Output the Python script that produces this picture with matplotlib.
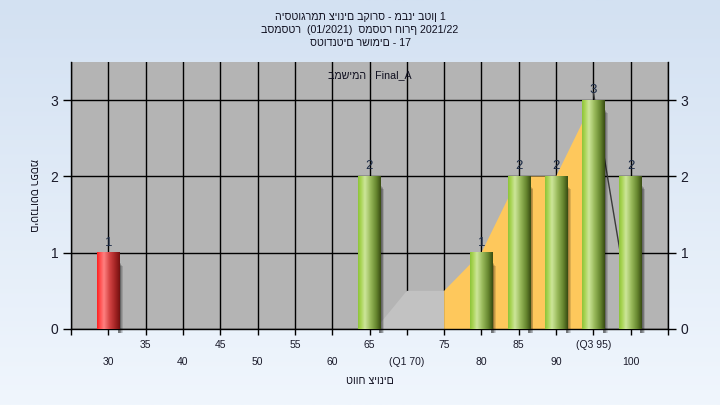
import numpy as np
import matplotlib
matplotlib.use('Agg')
import matplotlib.pyplot as plt
from matplotlib.colors import LinearSegmentedColormap
from matplotlib.patches import Rectangle

plt.rcParams['font.family'] = ['Liberation Sans', 'DejaVu Sans']

# ---- text ----
title_lines = ["היסטוגרמת ציונים בקורס - מבני בטון 1",
               "בסמסטר  (01/2021)  סמסטר חורף 2021/22",
               "סטודנטים רשומים - 17"]
task_label = "במשימה : Final_A"
x_label = "טווח ציונים"
y_label = "מספר סטודנטים"

# ---- data ----
grades = [30, 65, 80, 85, 90, 95, 100]
counts = [1, 2, 1, 2, 2, 3, 2]
failing = [True, False, False, False, False, False, False]

tick_values = [30, 35, 40, 45, 50, 55, 60, 65, 70, 75, 80, 85, 90, 95, 100]
tick_labels = ["30", "35", "40", "45", "50", "55", "60", "65", "(Q1 70)",
               "75", "80", "85", "90", "(Q3 95)", "100"]
y_ticks = [0, 1, 2, 3]

# quartile shading
low_band_x = [65.8, 70, 75, 75]
low_band_y = [0, 0.5, 0.5, 0]
high_band_x = [75, 75, 80, 85, 90, 95, 95]
high_band_y = [0, 0.5, 1, 2, 2, 3, 0]
whisker_x = [95, 98.6]
whisker_y = [3.1, 1.0]

W, H = 720, 405
fig = plt.figure(figsize=(W / 100, H / 100), dpi=100)

# background gradient
bg = fig.add_axes([0, 0, 1, 1], zorder=-10)
grad = np.linspace(0, 1, 256)[:, None]
bg_cmap = LinearSegmentedColormap.from_list('bg', ['#d3e1f2', '#f0f6fd'])
bg.imshow(grad, aspect='auto', cmap=bg_cmap, extent=[0, 1, 0, 1])
bg.axis('off')

ax = fig.add_axes([71 / W, 1 - 329 / H, (668 - 71) / W, (329 - 62) / H])
ax.set_facecolor('#b4b4b4')

# grid
ax.set_axisbelow(True)
ax.grid(which='both', axis='x', color='black', lw=1, zorder=0)
ax.grid(which='major', axis='y', color='black', lw=1, zorder=0)

# quartile bands
ax.fill(low_band_x, low_band_y, color='#c2c2c2', lw=0, zorder=1)
ax.fill(high_band_x, high_band_y, color='#fec85c', lw=0, zorder=1)
ax.plot(whisker_x, whisker_y, color='#3a3a3a', lw=1, zorder=1.5)

green_cmap = LinearSegmentedColormap.from_list('g', [
    (0, '#8cc43a'), (0.12, '#a8d352'), (0.3, '#cde69a'),
    (0.55, '#98b95a'), (0.8, '#66862f'), (1, '#384c12')])
red_cmap = LinearSegmentedColormap.from_list('r', [
    (0, '#ff1e1e'), (0.12, '#ff4a4a'), (0.3, '#ff8080'),
    (0.55, '#d44444'), (0.8, '#a42424'), (1, '#741010')])
hgrad = np.linspace(0, 1, 128)[None, :]

bars = ax.bar(grades, counts, width=3,
              color=['#d84848' if f else '#9cbd5e' for f in failing],
              lw=0, zorder=3)
for bar, fail, c in zip(bars, failing, counts):
    x0, y0 = bar.get_x(), bar.get_y()
    w, h = bar.get_width(), bar.get_height()
    # soft shadow
    for i in range(5):
        ax.add_patch(Rectangle((x0 + w - 0.2, -0.05), 0.25 + i * 0.1,
                               h - 0.07 - i * 0.012, color='black',
                               alpha=0.13, lw=0, zorder=2, clip_on=False))
    ax.imshow(hgrad, extent=[x0, x0 + w, y0, y0 + h], aspect='auto',
              cmap=red_cmap if fail else green_cmap, zorder=3.5)
    ax.annotate(str(c), (x0 + w / 2, y0 + h), xytext=(0, 3),
                textcoords='offset points', ha='center', va='bottom',
                fontsize=9.5, color='#1b2a45', zorder=5)

ax.set_xlim(25, 105)
ax.set_ylim(0, 3.5)
ax.set_aspect('auto')

# x ticks: two rows
major_vals = [v for v in tick_values if v % 10 == 0]
major_labs = [l for v, l in zip(tick_values, tick_labels) if v % 10 == 0]
minor_vals = [25] + [v for v in tick_values if v % 10 != 0] + [105]
minor_labs = [""] + [l for v, l in zip(tick_values, tick_labels) if v % 10 != 0] + [""]
ax.set_xticks(major_vals)
ax.set_xticklabels(major_labs)
ax.set_xticks(minor_vals, minor=True)
ax.set_xticklabels(minor_labs, minor=True)
ax.tick_params(axis='x', which='major', length=4, width=1, pad=16,
               labelsize=7.5, labelcolor='#1a1a2a')
ax.tick_params(axis='x', which='minor', length=4, width=1, pad=4,
               labelsize=7.5, labelcolor='#1a1a2a')

ax.set_yticks(y_ticks)
ax.tick_params(axis='y', which='major', length=6, width=1, pad=3,
               labelsize=10, labelcolor='#1a1a2a', right=True, labelright=True)
ax.yaxis.set_minor_locator(matplotlib.ticker.NullLocator())

for s in ['left', 'right', 'bottom']:
    ax.spines[s].set_color('black')
    ax.spines[s].set_linewidth(1)
ax.spines['top'].set_visible(False)

# texts
for i, line in enumerate(title_lines):
    fig.text(0.5, 1 - (17 + 13 * i) / H, line, ha='center', va='center',
             fontsize=7.7, color='#101020')
fig.text(370 / W, 1 - 75 / H, task_label, ha='center', va='center',
         fontsize=7.7, color='#101020')
fig.text(370 / W, 1 - 381 / H, x_label, ha='center', va='center',
         fontsize=7.7, color='#101020')
fig.text(33 / W, 1 - 195 / H, y_label, ha='center', va='center',
         fontsize=7.7, color='#101020', rotation=270)

fig.savefig('out.png', dpi=100)
